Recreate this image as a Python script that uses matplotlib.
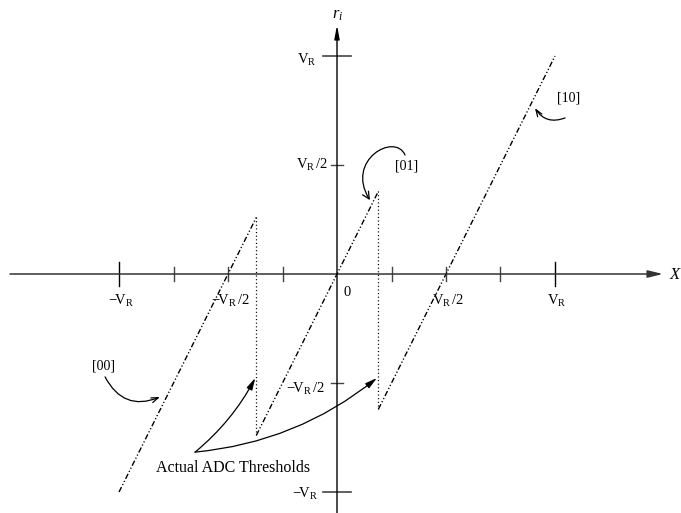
import matplotlib
matplotlib.use("Agg")
import matplotlib.pyplot as plt
from matplotlib.patches import FancyArrowPatch
from matplotlib.path import Path

plt.rcParams['font.family'] = ['Liberation Serif', 'DejaVu Serif']
plt.rcParams['mathtext.fontset'] = 'custom'
plt.rcParams['mathtext.rm'] = 'Liberation Serif'
plt.rcParams['mathtext.it'] = 'Liberation Serif:italic'

# Quantizer transfer segments (x in units of V_R) for codes [00], [01], [10]
codes = ['[00]', '[01]', '[10]']
seg_x = [[-1.0, -0.37], [-0.37, 0.19], [0.19, 1.0]]
seg_y = [[-1.0, 0.26], [-0.74, 0.38], [-0.62, 1.0]]
thresholds = [-0.37, 0.19]

# Axis ticks
x_major = [-1.0, 1.0]
x_minor = [-0.75, -0.5, -0.25, 0.25, 0.5, 0.75]
y_major = [-1.0, 1.0]
y_minor = [-0.5, 0.5]
x_tick_labels = {-1.0: r'$-\!\mathrm{V_R}$', -0.5: r'$-\!\mathrm{V_R}\,/2$',
                 0.5: r'$\mathrm{V_R}\,/2$', 1.0: r'$\mathrm{V_R}$'}
y_tick_labels = {1.0: r'$\mathrm{V_R}$', 0.5: r'$\mathrm{V_R}\,/2$',
                 -0.5: r'$-\!\mathrm{V_R}\,/2$', -1.0: r'$-\!\mathrm{V_R}$'}

fig = plt.figure(figsize=(6.81, 5.13), dpi=100)
ax = fig.add_axes([0, 0, 1, 1])
ax.set_xlim(-1.5459, 1.5780)
ax.set_ylim(-1.0963, 1.2569)
ax.axis('off')

# Axes with arrowheads
ax.annotate('', xy=(1.495, 0), xytext=(-1.50, 0),
            arrowprops=dict(arrowstyle='-|>,head_length=0.9,head_width=0.22',
                            color='#333333', lw=1.1, shrinkA=0, shrinkB=0))
ax.annotate('', xy=(0, 1.142), xytext=(0, -1.10),
            arrowprops=dict(arrowstyle='-|>,head_length=0.8,head_width=0.15',
                            color='black', lw=1.0, shrinkA=0, shrinkB=0))
ax.text(1.55, -0.005, 'X', ha='center', va='center', fontsize=12, style='italic')
ax.text(0.005, 1.19, r'$r_i$', ha='center', va='center', fontsize=12)

# Tick marks
for xv in x_major:
    ax.plot([xv, xv], [-0.057, 0.057], color='black', lw=1.0)
for xv in x_minor:
    ax.plot([xv, xv], [-0.032, 0.032], color='#444444', lw=1.0)
for yv in y_major:
    ax.plot([-0.064, 0.064], [yv, yv], color='#444444', lw=1.2)
for yv in y_minor:
    ax.plot([-0.028, 0.028], [yv, yv], color='#444444', lw=1.0)

for xv, lab in x_tick_labels.items():
    ax.text(xv + 0.01, -0.122, lab, ha='center', va='center', fontsize=10.5)
ax.text(0.048, -0.083, '0', ha='center', va='center', fontsize=10.5)
y_label_right = {1.0: -0.092, 0.5: -0.041, -0.5: -0.055, -1.0: -0.087}
y_label_dy = {1.0: -0.02, 0.5: 0.0, -0.5: -0.028, -1.0: -0.01}
for yv, lab in y_tick_labels.items():
    ax.text(y_label_right[yv], yv + y_label_dy[yv], lab, ha='right', va='center',
            fontsize=10.5)

# Transfer segments
for xs, ys in zip(seg_x, seg_y):
    ax.plot(xs, ys, color='black', lw=1.0,
            dashes=(4.0, 1.6, 0.9, 1.6, 0.9, 1.6))

# Threshold jumps
for i, t in enumerate(thresholds):
    ax.plot([t, t], [seg_y[i][1], seg_y[i + 1][0]], color='black', lw=0.9,
            dashes=(0.9, 2.0))

# Code labels with curved arrows
ax.text(-1.069, -0.422, codes[0], ha='center', va='center', fontsize=10)
ax.annotate('', xy=(-0.812, -0.564), xytext=(-1.064, -0.472),
            arrowprops=dict(arrowstyle='->,head_length=0.5,head_width=0.18',
                            color='black', lw=0.9, shrinkA=0, shrinkB=0,
                            connectionstyle='arc3,rad=0.45'))

ax.text(0.321, 0.495, codes[1], ha='center', va='center', fontsize=10)
loop = Path([(0.312, 0.546), (0.266, 0.651), (0.037, 0.523), (0.151, 0.339)],
            [Path.MOVETO, Path.CURVE4, Path.CURVE4, Path.CURVE4])
ax.add_patch(FancyArrowPatch(path=loop,
                             arrowstyle='->,head_length=5,head_width=2.5',
                             color='black', lw=0.9))

ax.text(1.060, 0.807, codes[2], ha='center', va='center', fontsize=10)
ax.annotate('', xy=(0.908, 0.761), xytext=(1.046, 0.716),
            arrowprops=dict(arrowstyle='->,head_length=0.5,head_width=0.18',
                            color='black', lw=0.9, shrinkA=0, shrinkB=0,
                            connectionstyle='arc3,rad=-0.4'))

# Threshold callout
ax.text(-0.477, -0.890, 'Actual ADC Thresholds', ha='center', va='center',
        fontsize=11.5)
src = (-0.651, -0.817)
ax.annotate('', xy=(thresholds[0] - 0.005, -0.477), xytext=src,
            arrowprops=dict(arrowstyle='-|>,head_length=0.7,head_width=0.18',
                            color='black', lw=0.9, shrinkA=0, shrinkB=0,
                            connectionstyle='arc3,rad=0.1'))
ax.annotate('', xy=(thresholds[1] - 0.007, -0.477), xytext=src,
            arrowprops=dict(arrowstyle='-|>,head_length=0.7,head_width=0.18',
                            color='black', lw=0.9, shrinkA=0, shrinkB=0,
                            connectionstyle='arc3,rad=0.15'))

fig.savefig('out.png', dpi=100)
